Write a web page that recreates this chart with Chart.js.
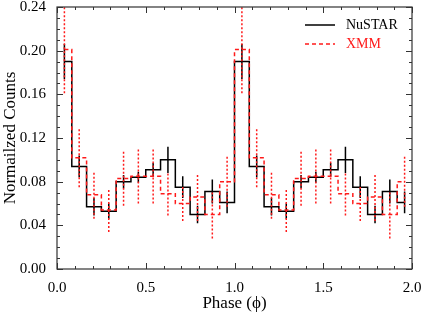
<!DOCTYPE html>
<html>
<head>
<meta charset="utf-8">
<script src="https://cdn.jsdelivr.net/npm/chart.js@4"></script>
<style>
  html, body { margin: 0; padding: 0; background: #fff; }
  #wrap { width: 423px; height: 314px; }
</style>
</head>
<body>
<div id="wrap"><canvas id="chart" width="423" height="314"></canvas></div>
<script>
// --- data (12 bins per cycle, two cycles shown) ---
const phase = [
  0.0417, 0.1250, 0.2083, 0.2917, 0.3750, 0.4583, 0.5417, 0.6250, 0.7083, 0.7917, 0.8750, 0.9583,
  1.0417, 1.1250, 1.2083, 1.2917, 1.3750, 1.4583, 1.5417, 1.6250, 1.7083, 1.7917, 1.8750, 1.9583
];
const nustar = [
  0.190, 0.094, 0.057, 0.053, 0.080, 0.084, 0.091, 0.100, 0.075, 0.050, 0.071, 0.061,
  0.190, 0.094, 0.057, 0.053, 0.080, 0.084, 0.091, 0.100, 0.075, 0.050, 0.071, 0.061
];
const nustarErr = [
  0.016, 0.010, 0.008, 0.007, 0.006, 0.005, 0.006, 0.012, 0.010, 0.008, 0.011, 0.010,
  0.016, 0.010, 0.008, 0.007, 0.006, 0.005, 0.006, 0.012, 0.010, 0.008, 0.011, 0.010
];
const xmm = [
  0.201, 0.102, 0.068, 0.054, 0.083, 0.085, 0.085, 0.069, 0.060, 0.066, 0.050, 0.080,
  0.201, 0.102, 0.068, 0.054, 0.083, 0.085, 0.085, 0.069, 0.060, 0.066, 0.050, 0.080
];
const xmmErr = [
  0.040, 0.027, 0.022, 0.020, 0.025, 0.025, 0.025, 0.020, 0.016, 0.022, 0.022, 0.023,
  0.040, 0.027, 0.022, 0.020, 0.025, 0.025, 0.025, 0.020, 0.016, 0.022, 0.022, 0.023
];
const xTicks = [0.0, 0.5, 1.0, 1.5, 2.0];
const yTicks = [0.00, 0.04, 0.08, 0.12, 0.16, 0.20, 0.24];
const legendOrder = ['NuSTAR', 'XMM'];

const FONT = "'Liberation Serif', 'DejaVu Serif', serif";

// points for the stepped profile
function profile(vals) {
  return phase.map((p, i) => ({ x: p, y: vals[i] }));
}
// vertical error bars as one broken line
function errorBars(vals, errs) {
  const pts = [];
  phase.forEach((p, i) => {
    pts.push({ x: p, y: vals[i] - errs[i] });
    pts.push({ x: p, y: vals[i] + errs[i] });
    pts.push({ x: p, y: null });
  });
  return pts;
}

// frame + inward ticks on all four sides, and the legend
const framePlugin = {
  id: 'frame',
  afterDraw(chart) {
    const { ctx, chartArea: a, scales } = chart;
    const xs = scales.x, ys = scales.y;
    ctx.save();
    ctx.strokeStyle = '#333';
    ctx.lineWidth = 1.2;
    ctx.strokeRect(a.left, a.top, a.right - a.left, a.bottom - a.top);

    ctx.lineWidth = 1;
    for (let i = 0; i <= 20; i++) {
      const v = i / 10;
      const px = Math.round(xs.getPixelForValue(v)) + 0.5;
      const len = (i % 5 === 0) ? 6 : 3;
      ctx.beginPath();
      ctx.moveTo(px, a.bottom); ctx.lineTo(px, a.bottom - len);
      ctx.moveTo(px, a.top); ctx.lineTo(px, a.top + len);
      ctx.stroke();
    }
    for (let i = 0; i <= 24; i++) {
      const v = i / 100;
      const py = Math.round(ys.getPixelForValue(v)) + 0.5;
      const len = (i % 4 === 0) ? 6 : 3;
      ctx.beginPath();
      ctx.moveTo(a.left, py); ctx.lineTo(a.left + len, py);
      ctx.moveTo(a.right, py); ctx.lineTo(a.right - len, py);
      ctx.stroke();
    }

    // legend
    ctx.font = '14px ' + FONT;
    ctx.textBaseline = 'middle';
    legendOrder.forEach((name, i) => {
      const d = chart.data.datasets.find(ds => ds.label === name);
      const y = a.top + 18 + i * 19;
      ctx.strokeStyle = d.borderColor;
      ctx.lineWidth = 1.5;
      ctx.setLineDash(d.borderDash || []);
      ctx.beginPath();
      ctx.moveTo(a.right - 107, y); ctx.lineTo(a.right - 77, y);
      ctx.stroke();
      ctx.setLineDash([]);
      ctx.fillStyle = d.borderColor;
      ctx.fillText(d.label, a.right - 66, y);
    });
    ctx.restore();
  }
};

new Chart(document.getElementById('chart'), {
  type: 'line',
  data: {
    datasets: [
      {
        label: 'XMM', data: profile(xmm), order: 0,
        borderColor: '#ff1a1a', borderWidth: 1.5, borderDash: [4, 3],
        stepped: 'middle', pointRadius: 0, fill: false
      },
      {
        data: errorBars(xmm, xmmErr), order: 1,
        borderColor: '#ff1a1a', borderWidth: 1.5, borderDash: [2, 2],
        pointRadius: 0, spanGaps: false, fill: false
      },
      {
        label: 'NuSTAR', data: profile(nustar), order: 2,
        borderColor: '#000000', borderWidth: 1.5,
        stepped: 'middle', pointRadius: 0, fill: false
      },
      {
        data: errorBars(nustar, nustarErr), order: 3,
        borderColor: '#000000', borderWidth: 1.5,
        pointRadius: 0, spanGaps: false, fill: false
      }
    ]
  },
  options: {
    responsive: false,
    animation: false,
    layout: { padding: { top: 7, right: 11, left: 0, bottom: 0 } },
    plugins: { legend: { display: false }, tooltip: { enabled: false } },
    scales: {
      x: {
        type: 'linear', min: 0, max: 2,
        afterBuildTicks: s => { s.ticks = xTicks.map(v => ({ value: v })); },
        afterFit: s => { s.height = 45; s.paddingLeft = 0; s.paddingRight = 0; },
        grid: { display: false },
        border: { display: false },
        ticks: {
          color: '#000', padding: 2,
          font: { family: FONT, size: 15 },
          callback: v => v.toFixed(1)
        },
        title: {
          display: true, text: 'Phase (ϕ)', color: '#000',
          font: { family: FONT, size: 17 }, padding: { top: 0, bottom: 0 }
        }
      },
      y: {
        min: 0, max: 0.24,
        afterBuildTicks: s => { s.ticks = yTicks.map(v => ({ value: v })); },
        afterFit: s => { s.width = 57; s.paddingTop = 0; s.paddingBottom = 0; },
        grid: { display: false },
        border: { display: false },
        ticks: {
          color: '#000', padding: 3,
          font: { family: FONT, size: 15 },
          callback: v => v.toFixed(2)
        },
        title: {
          display: true, text: 'Normailzed Counts', color: '#000',
          font: { family: FONT, size: 17 }, padding: { top: 0, bottom: 0 }
        }
      }
    }
  },
  plugins: [framePlugin]
});
</script>
</body>
</html>
